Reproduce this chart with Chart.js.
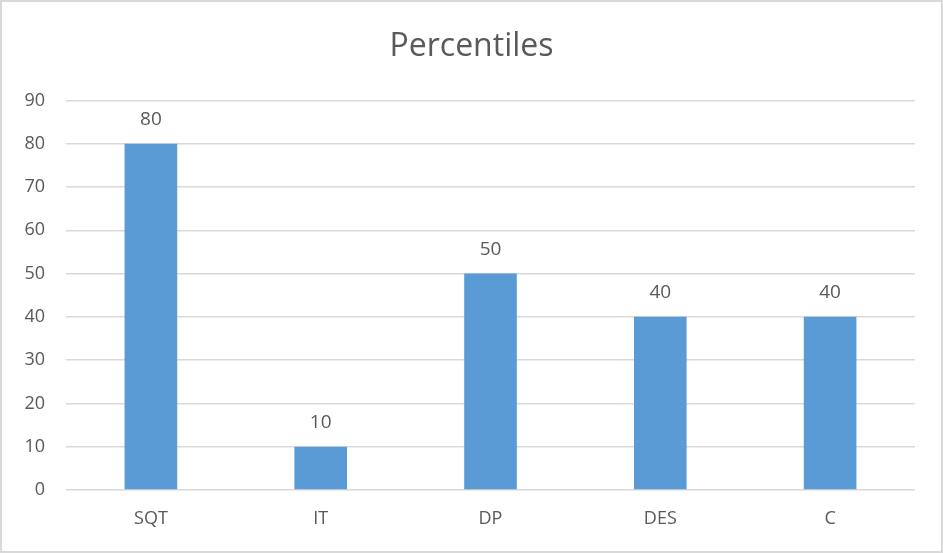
<!DOCTYPE html>
<html>
<head>
<meta charset="utf-8">
<script src="https://cdn.jsdelivr.net/npm/chart.js@4/dist/chart.umd.min.js"></script>
<style>
  html, body { margin: 0; padding: 0; background: #fff; }
  #frame {
    position: relative; width: 943px; height: 553px; box-sizing: border-box;
    border: 2px solid #d9d9d9; background: #fff;
  }
  #frame canvas { position: absolute; left: 0; top: 0; }
</style>
</head>
<body>
<div id="frame"><canvas id="c"></canvas></div>
<script>
const categories = ['SQT', 'IT', 'DP', 'DES', 'C'];
const percentiles = [80, 10, 50, 40, 40];
const yTicks = [0, 10, 20, 30, 40, 50, 60, 70, 80, 90];

const textColor = '#595959';
const gridColor = '#d9d9d9';
const fontFamily = '"Open Sans", sans-serif';

// Writes each bar's value just above it
const barValueLabels = {
  id: 'barValueLabels',
  afterDatasetsDraw(chart) {
    const ctx = chart.ctx;
    const meta = chart.getDatasetMeta(0);
    ctx.save();
    ctx.fillStyle = textColor;
    ctx.font = '19px ' + fontFamily;
    ctx.textAlign = 'center';
    ctx.textBaseline = 'middle';
    meta.data.forEach((bar, i) => {
      ctx.fillText(String(chart.data.datasets[0].data[i]), bar.x, bar.y - 24);
    });
    ctx.restore();
  }
};

const canvas = document.getElementById('c');
canvas.width = 939; canvas.height = 549;

new Chart(canvas, {
  type: 'bar',
  data: {
    labels: categories,
    datasets: [{
      label: 'Percentiles',
      data: percentiles,
      backgroundColor: '#5b9bd5',
      borderWidth: 0,
      categoryPercentage: 1,
      barPercentage: 0.31
    }]
  },
  options: {
    responsive: false,
    animation: false,
    devicePixelRatio: 1,
    layout: { padding: 0 },
    plugins: {
      legend: { display: false },
      tooltip: { enabled: false },
      title: {
        display: true,
        text: 'Percentiles',
        color: textColor,
        font: { family: fontFamily, size: 32, weight: 'normal' },
        padding: { top: 26, bottom: 34 }
      }
    },
    scales: {
      x: {
        grid: { display: false, drawTicks: false },
        border: { display: false },
        ticks: { color: textColor, font: { family: fontFamily, size: 18 }, padding: 18 },
        afterFit(scale) { scale.height = 61; }
      },
      y: {
        min: 0, max: 90,
        afterBuildTicks(scale) { scale.ticks = yTicks.map(v => ({ value: v })); },
        grid: { color: gridColor, lineWidth: 1.5, drawTicks: false },
        border: { display: false },
        ticks: { color: textColor, font: { family: fontFamily, size: 18 }, padding: 21 },
        afterFit(scale) { scale.width = 64; }
      },
      // blank strip keeping the plot clear of the right edge
      yRight: {
        position: 'right',
        min: 0, max: 90,
        grid: { display: false, drawTicks: false },
        border: { display: false },
        ticks: { display: false },
        afterFit(scale) { scale.width = 26; }
      }
    }
  },
  plugins: [barValueLabels]
});
</script>
</body>
</html>
